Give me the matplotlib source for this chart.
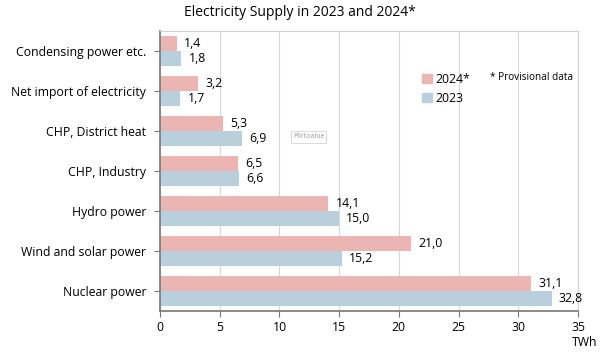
import matplotlib.pyplot as plt
import numpy as np
from matplotlib.patches import Patch

plt.rcParams['font.family'] = ['Open Sans', 'DejaVu Sans']

categories = ['Nuclear power', 'Wind and solar power', 'Hydro power', 'CHP, Industry',
              'CHP, District heat', 'Net import of electricity', 'Condensing power etc.']
vals_2024 = [31.1, 21.0, 14.1, 6.5, 5.3, 3.2, 1.4]
vals_2023 = [32.8, 15.2, 15.0, 6.6, 6.9, 1.7, 1.8]

c24 = '#ebb5b3'
c23 = '#b9cfdc'

fig = plt.figure(figsize=(6.0, 3.54), dpi=100)
ax = fig.add_axes([160 / 600, 1 - 311 / 354, 418 / 600, 280 / 354])

y = np.arange(len(categories))
h = 0.38
ax.barh(y + h / 2, vals_2024, height=h, color=c24, zorder=2)
ax.barh(y - h / 2, vals_2023, height=h, color=c23, zorder=2)

fs = 8.8
for yi, v in zip(y, vals_2024):
    ax.text(v + 0.6, yi + h / 2, f'{v:.1f}'.replace('.', ','), va='center', ha='left', fontsize=fs)
for yi, v in zip(y, vals_2023):
    ax.text(v + 0.6, yi - h / 2, f'{v:.1f}'.replace('.', ','), va='center', ha='left', fontsize=fs)

ax.set_xlim(0, 35)
ax.set_ylim(-0.5, len(categories) - 0.5)
ax.set_xticks(range(0, 36, 5))
ax.set_yticks(y)
ax.set_yticklabels(categories, fontsize=fs)
ax.tick_params(axis='x', labelsize=fs, length=4, color='#777777')
ax.tick_params(axis='y', length=4, color='#777777', pad=6)
ax.grid(axis='x', color='#d8d8d8', linewidth=0.8, zorder=0)
for s in ['top', 'right']:
    ax.spines[s].set_color('#d0d0d0')
for s in ['left', 'bottom']:
    ax.spines[s].set_color('#777777')
    ax.spines[s].set_linewidth(1.2)

fig.text(585 / 600, 1 - 343 / 354, 'TWh', ha='center', va='center', fontsize=fs)
fig.text(0.5, 1 - 12 / 354, 'Electricity Supply in 2023 and 2024*', ha='center', va='center', fontsize=10)

handles = [Patch(color=c24, label='2024*'), Patch(color=c23, label='2023')]
ax.legend(handles=handles, loc='upper left', bbox_to_anchor=(0.6, 0.89), frameon=False,
          fontsize=fs, handlelength=0.8, handleheight=0.8, handletextpad=0.3, labelspacing=0.5)
fig.text(490 / 600, 1 - 78 / 354, '* Provisional data', fontsize=7.2, va='center')
fig.text(293 / 600, 1 - 137 / 354, 'Piirtoalue', fontsize=5, color='#999999', va='center', ha='left',
         bbox=dict(boxstyle='square,pad=0.3', fc='white', ec='#cccccc', lw=0.5))

fig.savefig('out.png', dpi=100)
